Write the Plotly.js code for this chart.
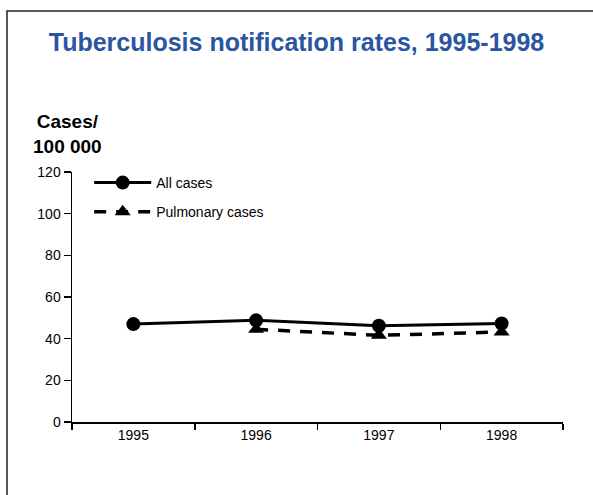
<!DOCTYPE html>
<html>
<head>
<meta charset="utf-8">
<script src="https://cdn.plot.ly/plotly-3.0.1.min.js"></script>
<style>html,body{margin:0;padding:0;background:#fff;}#chart{width:593px;height:495px;}</style>
</head>
<body>
<div id="chart"></div>
<script>
var years = ["1995", "1996", "1997", "1998"];
var allCases = [47, 48.8, 46.2, 47.3];
var pulmonaryYears = ["1996", "1997", "1998"];
var pulmonaryCases = [44.5, 41.6, 43.2];
var yTicks = [0, 20, 40, 60, 80, 100, 120];

var traces = [
  {
    x: years, y: allCases, name: "All cases", type: "scatter", mode: "lines+markers",
    legendgroup: "a",
    line: {color: "#000", width: 3},
    marker: {symbol: "circle", size: 14, color: "#000"}
  },
  {
    x: pulmonaryYears, y: pulmonaryCases, name: "Pulmonary cases", type: "scatter", mode: "lines+markers",
    legendgroup: "b",
    line: {color: "#000", width: 3.5, dash: "12px,10px"},
    marker: {symbol: "triangle-up", size: 14, color: "#000"}
  }
];

var layout = {
  width: 593, height: 495,
  margin: {l: 72, r: 30, t: 172, b: 73},
  paper_bgcolor: "#fff", plot_bgcolor: "#fff",
  font: {family: "Liberation Sans, Arial, sans-serif", size: 14, color: "#000"},
  title: {
    text: "<b>Tuberculosis notification rates, 1995-1998</b>",
    font: {family: "Liberation Sans, Arial, sans-serif", size: 25, color: "#2a55a0"},
    x: 0.5, xanchor: "center", xref: "container",
    y: 1 - 42/495, yanchor: "middle"
  },
  xaxis: {
    type: "category", categoryorder: "array", categoryarray: years,
    range: [-0.5, 3.5], showgrid: false, zeroline: false,
    showline: true, linecolor: "#000", linewidth: 1.5,
    ticks: "outside", tickson: "boundaries", ticklen: 6, tickcolor: "#000", tickwidth: 1.5,
    tickfont: {size: 14}, fixedrange: true
  },
  yaxis: {
    range: [0, 120], tickvals: yTicks, showgrid: false, zeroline: false,
    showline: true, linecolor: "#000", linewidth: 1.5,
    ticks: "outside", ticklen: 7, tickcolor: "#000", tickwidth: 1.5,
    tickfont: {size: 14}, fixedrange: true
  },
  showlegend: true,
  legend: {
    x: 0.035, y: 1.02, xanchor: "left", yanchor: "top",
    bgcolor: "rgba(0,0,0,0)", font: {size: 14},
    itemwidth: 57, tracegroupgap: 8
  },
  annotations: [
    {
      text: "<b>Cases/<br>100 000</b>", xref: "paper", yref: "paper",
      x: -5/491, y: (422-134)/250, xanchor: "center", yanchor: "middle",
      showarrow: false, align: "center",
      font: {size: 19, color: "#000"}
    }
  ],
  shapes: [
    {
      type: "rect", xref: "paper", yref: "paper",
      x0: -65/491, x1: 530/491, y0: -100/250, y1: (422-11)/250,
      line: {color: "#222", width: 1.5}, fillcolor: "rgba(0,0,0,0)"
    }
  ]
};

Plotly.newPlot("chart", traces, layout, {displayModeBar: false, staticPlot: true});
</script>
</body>
</html>
